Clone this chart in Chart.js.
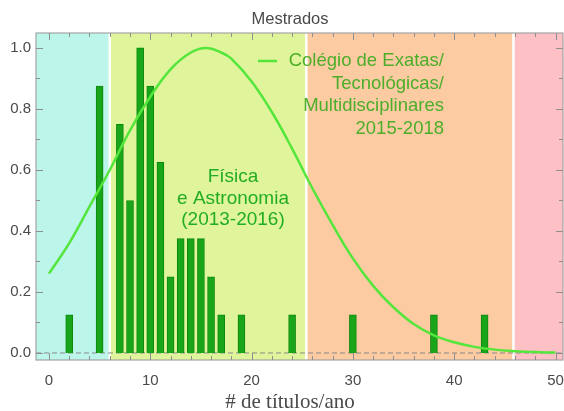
<!DOCTYPE html>
<html><head><meta charset="utf-8">
<script src="https://cdn.jsdelivr.net/npm/chart.js@4/dist/chart.umd.min.js"></script>
<style>html,body{margin:0;padding:0;background:#fff}#wrap{width:564px;height:411px}</style>
</head><body><div id="wrap"><canvas id="c"></canvas></div>
<script>
// ---- data ----
const titleText = 'Mestrados';
const xAxisTitle = '# de títulos/ano';
const barX = [2, 5, 7, 8, 9, 10, 11, 12, 13, 14, 15, 16, 17, 19, 24, 30, 38, 43];
const barY = [0.125, 0.875, 0.75, 0.5, 1.0, 0.875, 0.625, 0.25, 0.375, 0.375, 0.375, 0.25, 0.125, 0.125, 0.125, 0.125, 0.125, 0.125];
const curveX = [0, 2, 4, 6, 8, 10, 12, 14, 15.5, 17, 18, 20, 22, 24, 26, 28, 30, 32, 34, 36, 38, 40, 42, 44, 46, 48, 50];
const curveY = [0.26, 0.36, 0.48, 0.60, 0.73, 0.84, 0.93, 0.985, 1.0, 0.985, 0.965, 0.89, 0.79, 0.67, 0.54, 0.42, 0.31, 0.22, 0.15, 0.095, 0.058, 0.035, 0.02, 0.011, 0.006, 0.003, 0.0015];
const bandEdges = [-1.28, 6, 25.4, 45.85, 50.74];
const legendLines = ['Colégio de Exatas/', 'Tecnológicas/', 'Multidisciplinares', '2015-2018'];
const areaLabel = ['Física', 'e Astronomia', '(2013-2016)'];
const xRange = [-1.28, 50.74];
const yRange = [-0.023, 1.049];

// ---- styles ----
const bandColors = ['#bcf5ea', '#e0f59b', '#fccba2', '#fdc1c5'];
const curveColor = '#55e63c';
const legendTextColor = '#4cae2a';
const areaTextColor = '#22ad22';
const textGrey = '#4a4a4a';
const sans = '"Liberation Sans", Arial, sans-serif';
const serif = '"Liberation Serif", "Times New Roman", serif';

const decor = {
  id: 'decor',
  beforeDatasetsDraw(chart) {
    const {ctx, chartArea: a, scales: {x, y}} = chart;
    ctx.save();
    for (let i = 0; i < bandColors.length; i++) {
      const x0 = x.getPixelForValue(bandEdges[i]);
      const x1 = x.getPixelForValue(bandEdges[i + 1]);
      ctx.fillStyle = bandColors[i];
      ctx.fillRect(x0, a.top, x1 - x0, a.bottom - a.top);
    }
    ctx.strokeStyle = '#ffffff';
    ctx.lineWidth = 2.5;
    for (let i = 1; i < bandEdges.length - 1; i++) {
      const px = x.getPixelForValue(bandEdges[i]);
      ctx.beginPath(); ctx.moveTo(px, a.top); ctx.lineTo(px, a.bottom); ctx.stroke();
    }
    const y0 = y.getPixelForValue(0);
    ctx.strokeStyle = '#8a8a8a';
    ctx.lineWidth = 1;
    ctx.setLineDash([5, 3]);
    ctx.beginPath(); ctx.moveTo(a.left, y0); ctx.lineTo(a.right, y0); ctx.stroke();
    ctx.setLineDash([]);
    ctx.restore();
  },
  afterDatasetsDraw(chart) {
    const {ctx, chartArea: a, scales: {x, y}} = chart;
    ctx.save();
    ctx.strokeStyle = '#a4a4a4';
    ctx.lineWidth = 1.2;
    ctx.strokeRect(a.left, a.top, a.right - a.left, a.bottom - a.top);
    ctx.strokeStyle = '#8e8e8e';
    ctx.lineWidth = 1;
    x.ticks.forEach(t => {
      const major = Math.abs(t.value % 10) < 1e-6;
      const len = major ? 7 : 4;
      const px = Math.round(x.getPixelForValue(t.value)) + 0.5;
      ctx.beginPath();
      ctx.moveTo(px, a.bottom); ctx.lineTo(px, a.bottom - len);
      ctx.moveTo(px, a.top); ctx.lineTo(px, a.top + len);
      ctx.stroke();
    });
    y.ticks.forEach(t => {
      const major = Math.round(t.value * 10) % 2 === 0;
      const len = major ? 7 : 4;
      const py = Math.round(y.getPixelForValue(t.value)) + 0.5;
      ctx.beginPath();
      ctx.moveTo(a.left, py); ctx.lineTo(a.left + len, py);
      ctx.moveTo(a.right, py); ctx.lineTo(a.right - len, py);
      ctx.stroke();
    });
    // legend
    const lx = 444, ly = 61, lh = 22.6;
    ctx.strokeStyle = curveColor;
    ctx.lineWidth = 2.5;
    ctx.beginPath(); ctx.moveTo(258, ly); ctx.lineTo(277, ly); ctx.stroke();
    ctx.fillStyle = legendTextColor;
    ctx.font = '18.5px ' + sans;
    ctx.textAlign = 'right';
    ctx.textBaseline = 'middle';
    legendLines.forEach((s, i) => ctx.fillText(s, lx, ly + i * lh));
    // area label
    ctx.fillStyle = areaTextColor;
    ctx.textAlign = 'center';
    ctx.font = '19px ' + sans;
    const ax = 233, ay = 177, ah = 21.5;
    areaLabel.forEach((s, i) => ctx.fillText(s, ax, ay + i * ah));
    // titles
    ctx.fillStyle = textGrey;
    ctx.font = '16.5px ' + sans;
    ctx.fillText(titleText, 290, 19);
    ctx.font = '21px ' + serif;
    ctx.fillText(xAxisTitle, 290, 402);
    ctx.restore();
  }
};

new Chart(document.getElementById('c'), {
  type: 'bar',
  data: {
    datasets: [
      {
        type: 'line',
        data: curveX.map((v, i) => ({x: v, y: curveY[i]})),
        borderColor: curveColor,
        borderWidth: 2.5,
        pointRadius: 0,
        tension: 0.4,
        fill: false,
        order: 0
      },
      {
        type: 'bar',
        data: barX.map((v, i) => ({x: v, y: barY[i]})),
        backgroundColor: '#19a519',
        borderColor: '#0d880d',
        borderWidth: 1,
        barThickness: 7,
        order: 1
      }
    ]
  },
  options: {
    responsive: true,
    maintainAspectRatio: false,
    animation: false,
    layout: {padding: {left: 0, right: 1, top: 33, bottom: 0}},
    plugins: {
      legend: {display: false},
      tooltip: {enabled: false},
      title: {display: false}
    },
    scales: {
      x: {
        type: 'linear', min: xRange[0], max: xRange[1], offset: false,
        grid: {display: false, drawTicks: false, offset: false},
        border: {display: false},
        ticks: {
          stepSize: 2, includeBounds: false, autoSkip: false, maxRotation: 0, padding: 12,
          color: textGrey, font: {family: sans, size: 15},
          callback: v => (Math.abs(v % 10) < 1e-6 ? String(v) : '')
        },
        afterFit: s => { s.height = 51; s.paddingLeft = 0; s.paddingRight = 0; }
      },
      y: {
        type: 'linear', min: yRange[0], max: yRange[1],
        grid: {display: false, drawTicks: false},
        border: {display: false},
        ticks: {
          stepSize: 0.1, includeBounds: false, padding: 5,
          color: textGrey, font: {family: sans, size: 15},
          callback: v => (Math.round(v * 10) % 2 === 0 ? v.toFixed(1) : '')
        },
        afterFit: s => { s.width = 36; s.paddingTop = 0; s.paddingBottom = 0; }
      }
    }
  },
  plugins: [decor]
});
</script>
</body></html>
